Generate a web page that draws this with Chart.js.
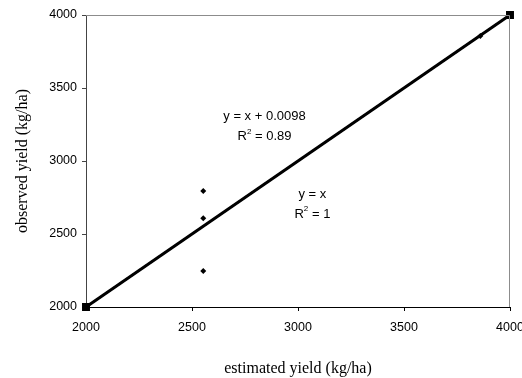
<!DOCTYPE html>
<html lang="en">
<head>
    <meta charset="UTF-8">
    <title>Estimated vs observed yield</title>
    <style>
        body {
            margin: 0;
            padding: 0;
            background-color: #fff;
        }
        #wrap {
            width: 522px;
            height: 378px;
        }
    </style>
    <script src="https://cdn.jsdelivr.net/npm/chart.js"></script>
</head>
<body>
    <div id="wrap"><canvas id="yieldChart" width="522" height="378"></canvas></div>
    <script>
        // observed points (diamonds)
        const estX = [2553, 2553, 2553, 3860, 2000, 4000];
        const obsY = [2795, 2608, 2247, 3856, 2000, 4000];
        // 1:1 line (squares at the ends)
        const oneToOneX = [2000, 4000];
        const oneToOneY = [2000, 4000];
        // fitted trend line y = x + 0.0098
        const trendX = [2000, 4000];
        const trendY = [2000.0098, 4000.0098];
        const axisTicks = [2000, 2500, 3000, 3500, 4000];

        // equation labels, placed in data coordinates
        const noteText = [['y = x + 0.0098', '0.89'], ['y = x', '1']];
        const noteX = [2842, 3068];
        const noteY = [3305, 2774];

        const pts = (xs, ys) => xs.map((x, i) => ({ x: x, y: ys[i] }));

        const frame = {
            id: 'frame',
            afterDraw(chart) {
                const a = chart.chartArea, ctx = chart.ctx;
                ctx.save();
                ctx.strokeStyle = '#8c8c8c';
                ctx.lineWidth = 1;
                ctx.beginPath();
                ctx.moveTo(a.left, a.top + 0.5);
                ctx.lineTo(a.right - 0.5, a.top + 0.5);
                ctx.lineTo(a.right - 0.5, a.bottom);
                ctx.stroke();
                ctx.restore();
            }
        };

        const sans = 'Arial, "Liberation Sans", sans-serif';
        const notes = {
            id: 'notes',
            afterDatasetsDraw(chart) {
                const ctx = chart.ctx;
                const xs = chart.scales.x, ys = chart.scales.y;
                ctx.save();
                ctx.fillStyle = '#000';
                ctx.textBaseline = 'middle';
                noteText.forEach((t, i) => {
                    const px = xs.getPixelForValue(noteX[i]);
                    const py = ys.getPixelForValue(noteY[i]);
                    ctx.textAlign = 'center';
                    ctx.font = '13px ' + sans;
                    ctx.fillText(t[0], px, py);
                    // R² line with superscript
                    const rest = ' = ' + t[1];
                    const wR = ctx.measureText('R').width;
                    const wRest = ctx.measureText(rest).width;
                    ctx.font = '8px ' + sans;
                    const w2 = ctx.measureText('2').width;
                    const sx = px - (wR + w2 + wRest) / 2;
                    const ly = py + 20;
                    ctx.textAlign = 'left';
                    ctx.font = '13px ' + sans;
                    ctx.fillText('R', sx, ly);
                    ctx.fillText(rest, sx + wR + w2, ly);
                    ctx.font = '8px ' + sans;
                    ctx.fillText('2', sx + wR, ly - 5);
                });
                ctx.restore();
            }
        };

        const tickFont = { family: sans, size: 12.5 };
        const titleFont = { family: '"Times New Roman", "Liberation Serif", serif', size: 16 };

        new Chart(document.getElementById('yieldChart'), {
            type: 'scatter',
            data: {
                datasets: [
                    {
                        label: 'observed',
                        data: pts(estX, obsY),
                        pointStyle: 'rectRot',
                        pointRadius: 3,
                        backgroundColor: '#000',
                        borderColor: '#000',
                        borderWidth: 0,
                        showLine: false,
                        clip: false
                    },
                    {
                        label: 'trend',
                        data: pts(trendX, trendY),
                        showLine: true,
                        borderColor: '#000',
                        borderWidth: 2,
                        pointRadius: 0,
                        clip: false
                    },
                    {
                        label: '1:1',
                        data: pts(oneToOneX, oneToOneY),
                        showLine: true,
                        borderColor: '#000',
                        backgroundColor: '#000',
                        borderWidth: 3,
                        pointStyle: 'rect',
                        pointRadius: 3.5,
                        clip: false
                    }
                ]
            },
            options: {
                responsive: false,
                animation: false,
                layout: { padding: { left: 0, right: 0, top: 15, bottom: 0 } },
                plugins: {
                    legend: { display: false },
                    tooltip: { enabled: false }
                },
                scales: {
                    x: {
                        type: 'linear',
                        min: 2000,
                        max: 4000,
                        afterBuildTicks: s => { s.ticks = axisTicks.map(v => ({ value: v })); },
                        afterFit: s => { s.height = 71; s.paddingRight = 12; s.paddingLeft = 0; },
                        grid: { drawOnChartArea: false, drawTicks: true, tickLength: 4, color: '#000' },
                        border: { display: true, color: '#000', width: 1 },
                        ticks: { color: '#000', font: tickFont, padding: 9, maxRotation: 0, callback: v => String(v) },
                        title: { display: true, text: 'estimated yield (kg/ha)', color: '#000', font: titleFont, padding: { top: 0, bottom: 0 } }
                    },
                    y: {
                        type: 'linear',
                        min: 2000,
                        max: 4000,
                        afterBuildTicks: s => { s.ticks = axisTicks.map(v => ({ value: v })); },
                        afterFit: s => { s.width = 86; s.paddingTop = 0; s.paddingBottom = 0; },
                        grid: { drawOnChartArea: false, drawTicks: true, tickLength: 4, color: '#444' },
                        border: { display: true, color: '#444', width: 1 },
                        ticks: { color: '#000', font: tickFont, padding: 5, callback: v => String(v) },
                        title: { display: true, text: 'observed yield (kg/ha)', color: '#000', font: titleFont, padding: { top: 13, bottom: 0 } }
                    }
                }
            },
            plugins: [frame, notes]
        });
    </script>
</body>
</html>
